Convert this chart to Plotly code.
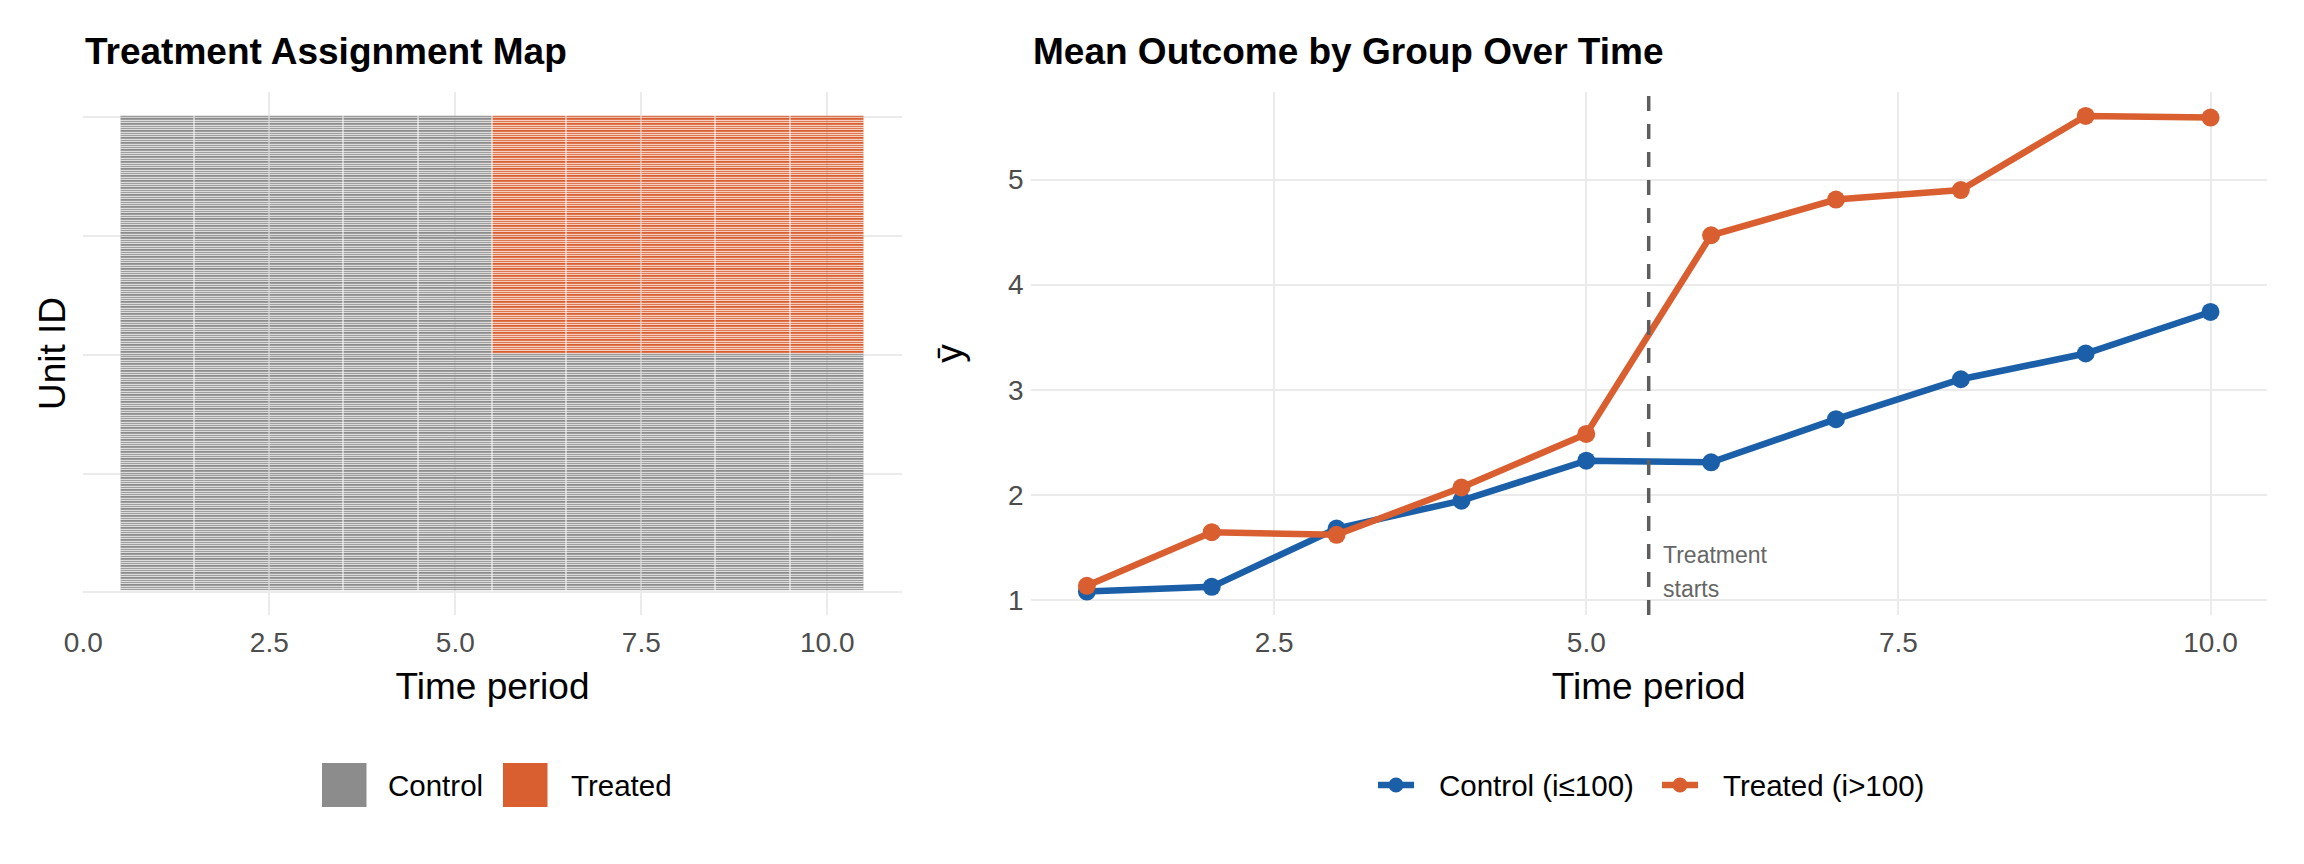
import plotly.graph_objects as go

# --- data -------------------------------------------------------------------
periods = list(range(1, 11))
units = list(range(1, 201))
first_treated_unit = 101      # units i > 100 are the treated group
treatment_period = 6          # treatment switches on from this period

control_mean = [1.08, 1.125, 1.68, 1.945, 2.325, 2.31, 2.72, 3.10, 3.345, 3.74]
treated_mean = [1.135, 1.645, 1.62, 2.07, 2.58, 4.47, 4.81, 4.90, 5.605, 5.59]

x_tickvals = [0, 2.5, 5, 7.5, 10]
x_ticktext = ["0.0", "2.5", "5.0", "7.5", "10.0"]
y_tickvals_units = [0, 50, 100, 150, 200]
y_tickvals_mean = [1, 2, 3, 4, 5]

# assignment matrix: 1 = treated, 0 = control
z = [[1 if (u >= first_treated_unit and t >= treatment_period) else 0 for t in periods]
     for u in units]

# --- style -------------------------------------------------------------------
GREY = "#8C8C8C"
ORANGE = "#D95F30"
BLUE = "#1B5FA8"
GRID = "#EBEBEB"
FONT = "Liberation Sans"
W, H = 2304, 864


def px_x(p):
    return p / W


def px_y(p):
    return 1 - p / H


fig = go.Figure()

fig.add_trace(go.Heatmap(
    x=periods, y=units, z=z,
    zmin=0, zmax=1,
    colorscale=[[0, GREY], [0.5, GREY], [0.5, ORANGE], [1, ORANGE]],
    showscale=False, xgap=1, ygap=0.85,
    hoverinfo="skip", xaxis="x", yaxis="y",
))

fig.add_trace(go.Scatter(
    x=periods, y=control_mean, mode="lines+markers", name="Control (i≤100)",
    line=dict(color=BLUE, width=6.5), marker=dict(color=BLUE, size=18),
    xaxis="x2", yaxis="y2",
))
fig.add_trace(go.Scatter(
    x=periods, y=treated_mean, mode="lines+markers", name="Treated (i>100)",
    line=dict(color=ORANGE, width=6.5), marker=dict(color=ORANGE, size=18),
    xaxis="x2", yaxis="y2",
))

axis_common = dict(
    showgrid=True, gridcolor=GRID, gridwidth=2.3, zeroline=False,
    showline=False, ticks="", automargin=False,
    tickfont=dict(family=FONT, size=28, color="#4D4D4D"),
)
title_font = dict(family=FONT, size=37, color="black")
ydom = [px_y(615), px_y(92)]

fig.update_layout(
    width=W, height=H, autosize=False,
    margin=dict(l=0, r=0, t=0, b=0),
    paper_bgcolor="white", plot_bgcolor="white",
    font=dict(family=FONT, color="black"),
    showlegend=False,
    xaxis=dict(axis_common, domain=[px_x(83.3), px_x(901.7)], range=[0, 11],
               tickvals=x_tickvals, ticktext=x_ticktext, ticklabelstandoff=8,
               title=dict(text="Time period", font=title_font, standoff=16)),
    yaxis=dict(axis_common, domain=ydom, range=[-9.5, 210.5],
               tickvals=y_tickvals_units, showticklabels=False,
               title=dict(text="Unit ID", font=title_font, standoff=5)),
    xaxis2=dict(axis_common, domain=[px_x(1030.7), px_x(2266.7)], range=[0.55, 10.45],
                tickvals=x_tickvals[1:], ticktext=x_ticktext[1:], ticklabelstandoff=8,
                anchor="y2",
                title=dict(text="Time period", font=title_font, standoff=16)),
    yaxis2=dict(axis_common, domain=ydom, range=[0.857, 5.833],
                tickvals=y_tickvals_mean, anchor="x2", ticklabelstandoff=6,
                title=dict(text="\u0233", font=title_font, standoff=34)),
)

# vertical treatment marker
fig.add_shape(type="line", xref="x2", yref="y2 domain", x0=5.5, x1=5.5, y0=0, y1=1,
              line=dict(color="#5E5E5E", width=3.5, dash="15px,13px"))

annotations = [
    dict(text="<b>Treatment Assignment Map</b>", x=px_x(83), y=px_y(51),
         xanchor="left", yanchor="middle", font=dict(size=37)),
    dict(text="<b>Mean Outcome by Group Over Time</b>", x=px_x(1030.7), y=px_y(51),
         xanchor="left", yanchor="middle", font=dict(size=37)),
    dict(text="Control", x=px_x(386), y=px_y(785), xanchor="left", yanchor="middle",
         font=dict(size=29.5)),
    dict(text="Treated", x=px_x(569), y=px_y(785), xanchor="left", yanchor="middle",
         font=dict(size=29.5)),
    dict(text="Control (i≤100)", x=px_x(1437), y=px_y(785), xanchor="left", yanchor="middle",
         font=dict(size=29.5)),
    dict(text="Treated (i>100)", x=px_x(1721), y=px_y(785), xanchor="left", yanchor="middle",
         font=dict(size=29.5)),
]
for a in annotations:
    a.update(xref="paper", yref="paper", showarrow=False)
    a["font"].update(family=FONT, color="black")
    fig.add_annotation(**a)

# "Treatment starts" label
fig.add_annotation(text="Treatment", x=5.6, y=1.43, xref="x2", yref="y2",
                   xanchor="left", yanchor="middle", showarrow=False,
                   font=dict(family=FONT, size=23, color="#666666"))
fig.add_annotation(text="starts", x=5.6, y=1.10, xref="x2", yref="y2",
                   xanchor="left", yanchor="middle", showarrow=False,
                   font=dict(family=FONT, size=23, color="#666666"))

# manual legend swatches for the assignment map
for x0, col in [(322, GREY), (503, ORANGE)]:
    fig.add_shape(type="rect", xref="paper", yref="paper",
                  x0=px_x(x0), x1=px_x(x0 + 44.5), y0=px_y(807), y1=px_y(763),
                  fillcolor=col, line=dict(width=0))

# manual legend keys (line + point) for the mean-outcome panel
r = 7.5
for x0, col in [(1378, BLUE), (1662, ORANGE)]:
    fig.add_shape(type="line", xref="paper", yref="paper",
                  x0=px_x(x0), x1=px_x(x0 + 36), y0=px_y(785), y1=px_y(785),
                  line=dict(color=col, width=6.5))
    fig.add_shape(type="circle", xref="paper", yref="paper",
                  x0=px_x(x0 + 18 - r), x1=px_x(x0 + 18 + r),
                  y0=px_y(785 + r), y1=px_y(785 - r),
                  fillcolor=col, line=dict(width=0))

fig.write_html("out.html", config={"displayModeBar": False},
               post_script="document.body.style.margin='0';")
